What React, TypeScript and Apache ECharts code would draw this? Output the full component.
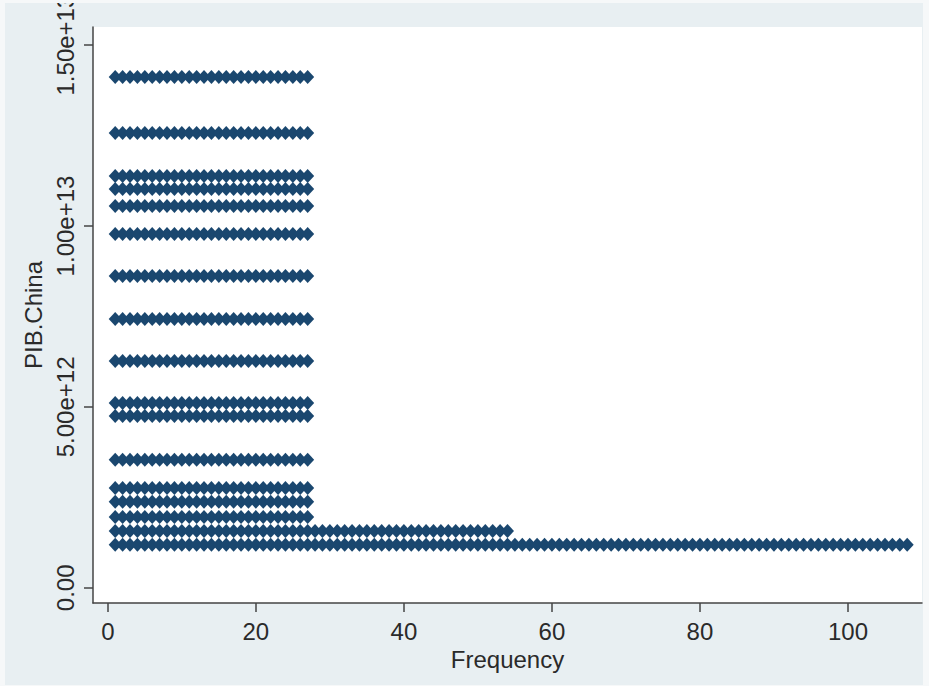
import { useEffect, useRef } from 'react';
import * as echarts from 'echarts';

// Distinct PIB.China levels and how many observations share each level
const gdpLevels = [
  14.12e12, 12.57e12, 11.38e12, 11.02e12, 10.55e12, 9.78e12, 8.62e12, 7.43e12,
  6.27e12, 5.11e12, 4.75e12, 3.54e12, 2.76e12, 2.38e12, 1.96e12, 1.57e12, 1.19e12,
];
const frequencies = [27, 27, 27, 27, 27, 27, 27, 27, 27, 27, 27, 27, 27, 27, 27, 54, 108];

const xTicks = [0, 20, 40, 60, 80, 100];
const yTicks = [0, 5e12, 1e13, 1.5e13];
const yTickLabels = ['0.00', '5.00e+12', '1.00e+13', '1.50e+13'];

const FONT = "'Liberation Sans', Arial, sans-serif";
const TEXT = '#2a2a2a';
const AXIS = '#444444';

// Dot plot: one diamond per observation, stacked sideways along the frequency axis
function buildDots(): [number, number][] {
  const pts: [number, number][] = [];
  gdpLevels.forEach((level, i) => {
    for (let k = 1; k <= frequencies[i]; k++) pts.push([k, level]);
  });
  return pts;
}

export default function App() {
  const ref = useRef<HTMLDivElement>(null);

  useEffect(() => {
    if (!ref.current) return;
    const chart = echarts.init(ref.current, undefined, { renderer: 'svg' });
    chart.setOption({
      animation: false,
      backgroundColor: '#e8eff2',
      grid: {
        left: 88,
        right: 1,
        top: 24,
        bottom: 82,
        outerBoundsMode: 'none',
        containLabel: false,
        show: true,
        backgroundColor: '#ffffff',
        borderWidth: 0,
      },
      xAxis: {
        type: 'value',
        min: -2,
        max: 110,
        name: 'Frequency',
        nameLocation: 'middle',
        nameGap: 36,
        nameTextStyle: { fontFamily: FONT, fontSize: 24, color: TEXT },
        axisLine: { show: true, onZero: false, lineStyle: { color: AXIS, width: 1.5 } },
        axisTick: { show: true, length: 9, lineStyle: { color: AXIS, width: 1.5 }, customValues: xTicks },
        axisLabel: { fontFamily: FONT, fontSize: 24, color: TEXT, margin: 16, customValues: xTicks },
        splitLine: { show: false },
      },
      yAxis: {
        type: 'value',
        min: -4.2e11,
        max: 1.55e13,
        name: 'PIB.China',
        nameLocation: 'middle',
        nameGap: 44,
        nameTextStyle: { fontFamily: FONT, fontSize: 24, color: TEXT },
        axisLine: { show: true, onZero: false, lineStyle: { color: AXIS, width: 1.5 } },
        axisTick: { show: true, length: 9, lineStyle: { color: AXIS, width: 1.5 }, customValues: yTicks },
        axisLabel: {
          fontFamily: FONT,
          fontSize: 24,
          color: TEXT,
          margin: 16,
          rotate: 90,
          customValues: yTicks,
          formatter: (v: number) => {
            const idx = yTicks.findIndex((t) => Math.abs(t - v) < 1);
            return idx >= 0 ? yTickLabels[idx] : '';
          },
        },
        splitLine: { show: false },
      },
      series: [
        {
          type: 'scatter',
          data: buildDots(),
          symbol: 'diamond',
          symbolSize: [13, 14],
          itemStyle: { color: '#1a476f', opacity: 1 },
          emphasis: { disabled: true },
        },
      ],
    });
    return () => chart.dispose();
  }, []);

  return (
    <div style={{ position: 'fixed', left: 0, top: 0, width: 929, height: 686, background: '#f6f8f9' }}>
      <div ref={ref} style={{ position: 'absolute', left: 5, top: 3, width: 918, height: 682 }} />
    </div>
  );
}
